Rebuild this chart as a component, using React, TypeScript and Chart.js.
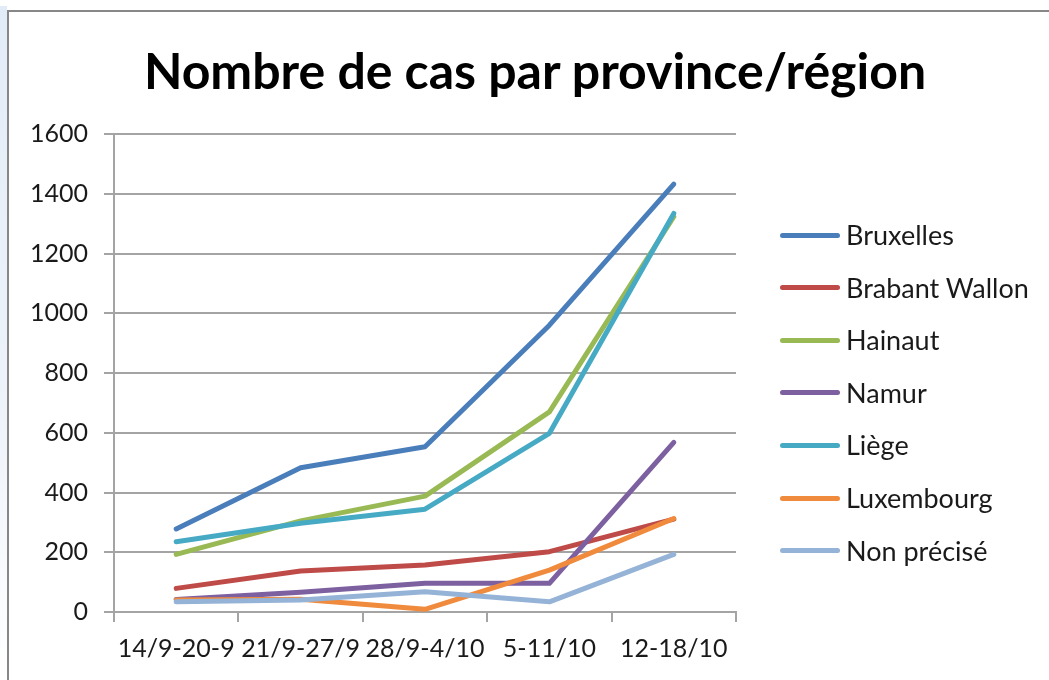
import React, { useEffect, useRef } from "react";
import { Chart, registerables } from "chart.js";

Chart.register(...registerables);

const TITLE = "Nombre de cas par province/région";
const weeks = ["14/9-20-9", "21/9-27/9", "28/9-4/10", "5-11/10", "12-18/10"];
const seriesNames = ["Bruxelles", "Brabant Wallon", "Hainaut", "Namur", "Liège", "Luxembourg", "Non précisé"];
const bruxelles = [278, 483, 553, 960, 1432];
const brabantWallon = [79, 137, 157, 202, 311];
const hainaut = [193, 305, 388, 670, 1323];
const namur = [42, 66, 96, 96, 568];
const liege = [235, 297, 344, 598, 1334];
const luxembourg = [40, 43, 9, 140, 313];
const nonPrecise = [34, 40, 68, 34, 193];
const seriesValues = [bruxelles, brabantWallon, hainaut, namur, liege, luxembourg, nonPrecise];
const seriesColors = ["#4A7EBB", "#BE4B48", "#98B954", "#7D60A0", "#46AAC5", "#F08A3C", "#95B3D7"];
const yMin = 0;
const yMax = 1600;
const yStep = 200;

const FONT = "Lato, 'Open Sans', sans-serif";
const GRID = "#a4a4a4";

export default function App() {
  const ref = useRef<HTMLCanvasElement | null>(null);

  useEffect(() => {
    if (!ref.current) return;
    const n = seriesNames.length;
    const chart = new Chart(ref.current, {
      type: "line",
      data: {
        labels: weeks,
        datasets: seriesNames.map((name, i) => ({
          label: name,
          data: seriesValues[i],
          borderColor: seriesColors[i],
          backgroundColor: seriesColors[i],
          borderWidth: 5,
          pointRadius: 0,
          pointHoverRadius: 0,
          tension: 0,
          borderCapStyle: "round" as const,
          borderJoinStyle: "round" as const,
          order: n - i,
        })),
      },
      options: {
        responsive: false,
        animation: false,
        layout: { padding: { left: 0, top: 134, right: 313, bottom: 0 } },
        plugins: {
          legend: { display: false },
          title: { display: false },
          tooltip: { enabled: false },
        },
        scales: {
          x: {
            type: "category",
            offset: true,
            grid: {
              offset: true,
              drawOnChartArea: false,
              drawTicks: true,
              tickLength: 10,
              color: GRID,
              lineWidth: 2,
            },
            border: { display: true, color: GRID, width: 2 },
            ticks: {
              font: { family: FONT, size: 25 },
              color: "#1a1a1a",
              padding: 12,
              maxRotation: 0,
              minRotation: 0,
              autoSkip: false,
            },
            afterFit: (s: any) => {
              s.height = 68;
            },
          },
          y: {
            min: yMin,
            max: yMax,
            ticks: {
              stepSize: yStep,
              font: { family: FONT, size: 25 },
              color: "#1a1a1a",
              padding: 16,
              callback: (v: any) => String(v),
            },
            grid: { color: GRID, lineWidth: 2, tickLength: 10, drawTicks: true },
            border: { display: true, color: GRID, width: 2 },
            afterFit: (s: any) => {
              s.width = 114;
            },
          },
        },
      },
    });
    return () => chart.destroy();
  }, []);

  return (
    <div
      style={{
        position: "fixed",
        left: 0,
        top: 0,
        width: 1049,
        height: 680,
        background: "#ffffff",
        overflow: "hidden",
      }}
    >
      <div
        style={{
          position: "absolute",
          left: 0,
          top: 6,
          width: 7,
          height: 674,
          background: "linear-gradient(to bottom, #e2ecf8 0%, #eef3fa 60%, #ffffff 100%)",
        }}
      />
      <div
        style={{
          position: "absolute",
          left: 7,
          top: 10,
          width: 1100,
          height: 700,
          borderLeft: "2px solid #878787",
          borderTop: "2px solid #878787",
          boxSizing: "border-box",
        }}
      />
      <canvas
        ref={ref}
        width={1049}
        height={680}
        style={{ position: "absolute", left: 0, top: 0, width: 1049, height: 680 }}
      />
      <div
        style={{
          position: "absolute",
          left: 535,
          top: 40,
          transform: "translateX(-50%)",
          whiteSpace: "nowrap",
          fontFamily: FONT,
          fontWeight: 700,
          fontSize: 50,
          lineHeight: "60px",
          color: "#000",
        }}
      >
        {TITLE}
      </div>
      {seriesNames.map((name, i) => (
        <div
          key={name}
          style={{
            position: "absolute",
            left: 780,
            top: 235 + i * 52.6 - 15,
            height: 30,
            display: "flex",
            alignItems: "center",
            whiteSpace: "nowrap",
          }}
        >
          <div
            style={{
              width: 60,
              height: 5,
              borderRadius: 3,
              background: seriesColors[i],
              marginRight: 6,
            }}
          />
          <span style={{ fontFamily: FONT, fontSize: 27, color: "#1a1a1a", lineHeight: "30px" }}>{name}</span>
        </div>
      ))}
    </div>
  );
}
